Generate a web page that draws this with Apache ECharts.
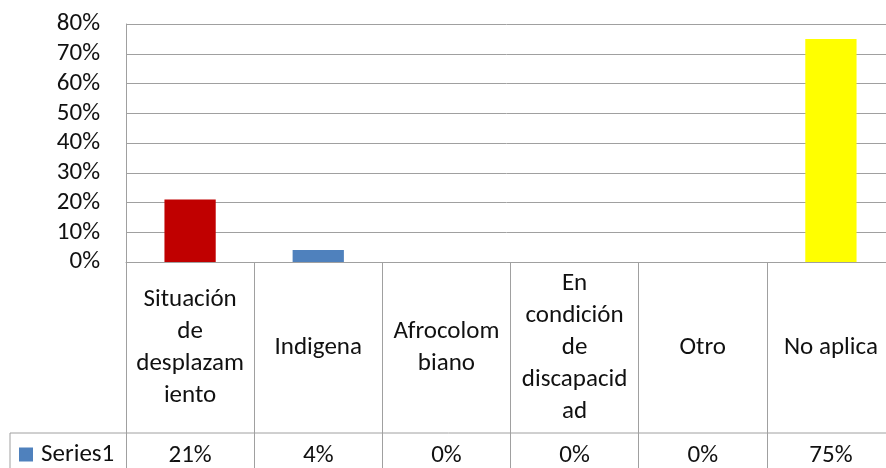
<!DOCTYPE html>
<html>
<head>
<meta charset="utf-8">
<script src="https://cdn.jsdelivr.net/npm/echarts@6/dist/echarts.min.js"></script>
<style>
  html, body { margin: 0; padding: 0; background: #fff; }
  #chart { width: 886px; height: 468px; }
</style>
</head>
<body>
<div id="chart"></div>
<script>
const categories = ['Situación de desplazamiento', 'Indigena', 'Afrocolombiano', 'En condición de discapacidad', 'Otro', 'No aplica'];
// header text as wrapped in the table
const headerLabels = ['Situación\nde\ndesplazam\niento', 'Indigena', 'Afrocolom\nbiano', 'En\ncondición\nde\ndiscapacid\nad', 'Otro', 'No aplica'];
const values = [0.21, 0.04, 0, 0, 0, 0.75];
const barColors = ['#C00000', '#4F81BD', '#4F81BD', '#4F81BD', '#4F81BD', '#FFFF00'];
const seriesName = 'Series1';

const FONT = 'Carlito, Lato, sans-serif';
const TEXT = '#111111';
const LINE = '#a0a0a0';

const chart = echarts.init(document.getElementById('chart'));

const pct = v => Math.round(v * 100) + '%';

chart.setOption({
  animation: false,
  textStyle: { fontFamily: FONT },
  legend: {
    left: 19,
    top: 442,
    padding: 0,
    icon: 'rect',
    itemWidth: 14,
    itemHeight: 14,
    itemGap: 0,
    selectedMode: false,
    textStyle: { fontFamily: FONT, fontSize: 25, color: TEXT, padding: [0, 0, 0, 3] },
    data: [seriesName]
  },
  grid: [
    { left: 126, top: 24, width: 769, bottom: 206, outerBoundsMode: 'none' },
    { left: 10, top: 433, width: 885, height: 100, outerBoundsMode: 'none', show: true, borderColor: LINE, borderWidth: 1, backgroundColor: 'transparent' }
  ],
  xAxis: [
    {
      type: 'category',
      gridIndex: 0,
      data: categories,
      axisLine: { lineStyle: { color: LINE } },
      axisTick: { show: true, length: 220, lineStyle: { color: LINE } },
      axisLabel: {
        interval: 0,
        margin: 86,
        verticalAlign: 'middle',
        align: 'center',
        fontFamily: FONT,
        fontSize: 25,
        lineHeight: 32,
        color: TEXT,
        formatter: (v, i) => headerLabels[i]
      }
    },
    {
      type: 'category',
      gridIndex: 0,
      position: 'bottom',
      offset: 0,
      data: values.map(pct),
      axisLine: { show: false },
      axisTick: { show: false },
      axisLabel: {
        interval: 0,
        margin: 194,
        verticalAlign: 'middle',
        fontFamily: FONT,
        fontSize: 25,
        color: TEXT
      }
    },
    { type: 'category', gridIndex: 1, show: false, data: [''] }
  ],
  yAxis: [
    {
      type: 'value',
      gridIndex: 0,
      min: 0,
      max: 0.8,
      interval: 0.1,
      axisLine: { show: true, lineStyle: { color: LINE } },
      axisTick: { show: false },
      splitLine: { lineStyle: { color: LINE } },
      axisLabel: {
        margin: 26,
        fontFamily: FONT,
        fontSize: 25,
        color: TEXT,
        formatter: v => pct(v)
      }
    },
    { type: 'value', gridIndex: 1, show: false }
  ],
  series: [
    {
      name: seriesName,
      type: 'bar',
      xAxisIndex: 0,
      yAxisIndex: 0,
      barWidth: '40%',
      itemStyle: { color: '#4F81BD' },
      data: values.map((v, i) => ({ value: v, itemStyle: { color: barColors[i] } }))
    }
  ]
});
</script>
</body>
</html>
